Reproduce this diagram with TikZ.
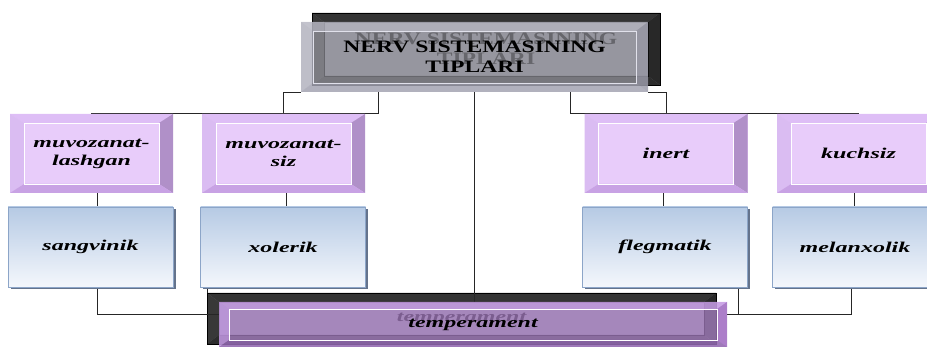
\documentclass[tikz,border=0pt]{standalone}
\usepackage{fontspec}
\usetikzlibrary{shadows,backgrounds}
\newfontfamily\tipfont[FakeStretch=1.35]{Liberation Serif}
\newfontfamily\turfont[FakeStretch=1.6]{Liberation Serif}
\definecolor{backface}{RGB}{122,122,128}
\definecolor{darktop}{RGB}{52,52,52}
\definecolor{darkleft}{RGB}{56,56,56}
\definecolor{darkright}{RGB}{40,40,40}
\definecolor{darkbot}{RGB}{44,44,44}
\definecolor{lavface}{RGB}{232,204,250}
\definecolor{lavtop}{RGB}{222,190,246}
\definecolor{lavleft}{RGB}{218,188,242}
\definecolor{lavright}{RGB}{176,144,200}
\definecolor{lavbot}{RGB}{200,162,228}
\definecolor{greyface}{RGB}{170,170,180}
\definecolor{greytop}{RGB}{190,190,202}
\definecolor{greyleft}{RGB}{180,180,194}
\definecolor{greyright}{RGB}{150,150,165}
\definecolor{greybot}{RGB}{160,160,175}
\definecolor{greyline}{RGB}{225,225,235}
\definecolor{purface}{RGB}{189,143,220}
\definecolor{purtop}{RGB}{200,160,230}
\definecolor{purleft}{RGB}{195,155,228}
\definecolor{purright}{RGB}{150,96,186}
\definecolor{purbot}{RGB}{130,90,160}
\definecolor{bluetop}{RGB}{182,202,228}
\definecolor{bluebot}{RGB}{244,247,252}
\definecolor{blueedge}{RGB}{140,165,200}
\definecolor{blueshade}{RGB}{100,115,140}
\tikzset{
  bev w/.store in=\bevw, bev h/.store in=\bevh,
  bev top/.store in=\bevtop, bev left/.store in=\bevleft,
  bev right/.store in=\bevright, bev bot/.store in=\bevbot,
  bev line/.store in=\bevline, bev op/.store in=\bevop,
  bevelled/.style = {path picture={
    \coordinate (bnw) at (path picture bounding box.north west);
    \coordinate (bse) at (path picture bounding box.south east);
    \coordinate (bne) at (bse |- bnw);
    \coordinate (bsw) at (bnw |- bse);
    \coordinate (inw) at ([xshift=\bevw,yshift=-\bevh]bnw);
    \coordinate (ine) at ([xshift=-\bevw,yshift=-\bevh]bne);
    \coordinate (ise) at ([xshift=-\bevw,yshift=\bevh]bse);
    \coordinate (isw) at ([xshift=\bevw,yshift=\bevh]bsw);
    \fill[fill=\bevtop, fill opacity=\bevop] (bnw) -- (bne) -- (ine) -- (inw) -- cycle;
    \fill[fill=\bevleft, fill opacity=\bevop] (bnw) -- (inw) -- (isw) -- (bsw) -- cycle;
    \fill[fill=\bevright, fill opacity=\bevop] (bne) -- (ine) -- (ise) -- (bse) -- cycle;
    \fill[fill=\bevbot, fill opacity=\bevop] (bsw) -- (isw) -- (ise) -- (bse) -- cycle;
    \draw[draw=\bevline, line width=0.6pt] (inw) rectangle (ise);
  }},
  nt/.style = {rectangle, inner sep=0pt, align=center, text=black},
  nt_back/.style = {nt, fill=backface, draw=black, line width=0.8pt, bevelled,
    bev w=12pt, bev h=9pt, bev top=darktop, bev left=darkleft,
    bev right=darkright, bev bot=darkbot, bev line=black, bev op=1},% orqa qora quti
  nt_front/.style = {nt, fill=greyface, fill opacity=0.6, text opacity=1, bevelled,
    bev w=12pt, bev h=9pt, bev top=greytop, bev left=greyleft,
    bev right=greyright, bev bot=greybot, bev line=greyline, bev op=0.6,
    font=\tipfont\bfseries\fontsize{17.5}{20}\selectfont},% sarlavha
  nt_lav/.style = {nt, fill=lavface, bevelled, minimum width=163pt, minimum height=79pt,
    bev w=14pt, bev h=9pt, bev top=lavtop, bev left=lavleft,
    bev right=lavright, bev bot=lavbot, bev line=white, bev op=1,
    font=\turfont\bfseries\itshape\fontsize{15}{18}\selectfont},% nerv turi
  nt_blue/.style = {nt, minimum width=165pt, minimum height=80pt,
    top color=bluetop, bottom color=bluebot, draw=blueedge, line width=0.6pt,
    drop shadow={shadow xshift=2.5pt, shadow yshift=-2.5pt, fill=blueshade, opacity=1},
    font=\turfont\bfseries\itshape\fontsize{15}{18}\selectfont},% temperament turi
  nt_pur/.style = {nt, fill=purface, fill opacity=0.65, text opacity=1, bevelled,
    bev w=10pt, bev h=7pt, bev top=purtop, bev left=purleft,
    bev right=purright, bev bot=purbot, bev line=white, bev op=0.65,
    font=\turfont\bfseries\itshape\fontsize{15}{18}\selectfont},
  conn/.style = {draw=black!85, line width=0.9pt}
}

\begin{document}
\begin{tikzpicture}[x=1pt,y=-1pt]
    \useasboundingbox (0,0) rectangle (927,347);
    % sarlavha
    \node [nt_front, minimum width=347pt, minimum height=70pt] (tip) at (474.5,57) {NERV SISTEMASINING\\TIPLARI};
    % nerv sistemasi turlari
    \node [nt_lav] (muv1) at (91.5,153.5) {muvozanat-\\lashgan};
    \node [nt_lav] (muv2) at (283.5,153.5) {muvozanat-\\siz};
    \node [nt_lav] (inert) at (666,153.5) {inert};
    \node [nt_lav] (kuch) at (858.5,153.5) {kuchsiz};
    % temperament turlari
    \node [nt_blue] (sang) at (90.5,247) {sangvinik};
    \node [nt_blue] (xol) at (283,247) {xolerik};
    \node [nt_blue] (fleg) at (665,247) {flegmatik};
    \node [nt_blue] (mel) at (855,247) {melanxolik};
    \node [nt_pur, minimum width=508pt, minimum height=45pt] (temp) at (473,324.5) {temperament};
    \begin{pgfonlayer}{background}
    \node [nt_back, font=\tipfont\bfseries\fontsize{17.5}{20}\selectfont,
      minimum width=348pt, minimum height=72pt] (tipback) at (486,49) {NERV SISTEMASINING\\TIPLARI};
    \node [nt_back, font=\turfont\bfseries\itshape\fontsize{15}{18}\selectfont,
      minimum width=509pt, minimum height=51pt] (tempback) at (461.5,318.5) {temperament};
    % ulovchi chiziqlar
    \draw [conn] (tip.south west) -| (283,113) -| (muv1.north);
    \draw [conn] ([xshift=-96.5pt]tip.south) -- ++(0,21) -| (muv2.north);
    \draw [conn] (tip.south) -- (tip.south |- temp.north);
    \draw [conn] ([xshift=95.5pt]tip.south) -- ++(0,21) -| (inert.north);
    \draw [conn] (tip.south east) -| (666,113) -| (kuch.north);
    \draw [conn] ([xshift=5.5pt]muv1.south) -- ++(0,14);
    \draw [conn] ([xshift=2.5pt]muv2.south) -- ++(0,14);
    \draw [conn] ([xshift=-3pt]inert.south) -- ++(0,14);
    \draw [conn] ([xshift=-4.5pt]kuch.south) -- ++(0,14);
    \draw [conn] ([xshift=6.5pt]sang.south) |- ([yshift=10pt]temp.west);
    \draw [conn] ([xshift=7pt]xol.south west) -- ++(0,6);
    \draw [conn] ([xshift=-9pt]fleg.south east) |- ([yshift=10pt]temp.east);
    \draw [conn] ([xshift=-4pt]mel.south) |- ([yshift=10pt]temp.east);
    \end{pgfonlayer}
\end{tikzpicture}
\end{document}
